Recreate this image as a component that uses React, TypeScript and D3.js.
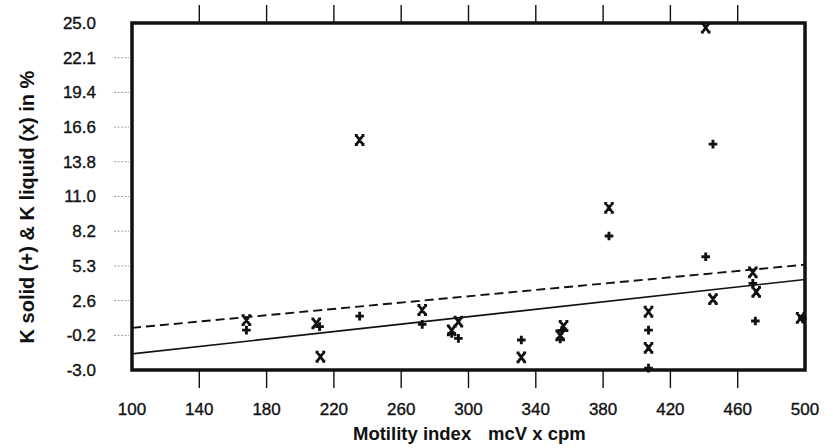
import React from "react";
import * as d3 from "d3";

const W = 833;
const H = 448;

// X axis
const xDomain = [100, 500];
const xTickValues = [100, 140, 180, 220, 260, 300, 340, 380, 420, 460, 500];
const xTickLabels = ["100", "140", "180", "220", "260", "300", "340", "380", "420", "460", "500"];
const xTickMarks = [140, 180, 220, 260, 300, 340, 380, 420, 460];

// Y axis
const yDomain = [-3, 25];
const yTickValues = [-3, -0.2, 2.6, 5.4, 8.2, 11.0, 13.8, 16.6, 19.4, 22.2, 25.0];
const yTickLabels = ["-3.0", "-0.2", "2.6", "5.3", "8.2", "11.0", "13.8", "16.6", "19.4", "22.1", "25.0"];

// K solid (+)
const solidX = [168, 211.5, 235.3, 272.5, 290, 294, 331.4, 355.5, 354.5, 383.5, 407, 407, 441, 445.3, 469, 470.5, 498.5];
const solidY = [0.22, 0.5, 1.35, 0.68, -0.05, -0.45, -0.58, 0.2, -0.5, 7.81, 0.22, -2.85, 6.14, 15.23, 3.99, 0.95, 1.15];

// K liquid (x)
const liquidX = [168, 209.5, 212, 235.3, 272.5, 290, 294, 331.4, 354.5, 356.5, 383.5, 407, 407, 441, 445.3, 469, 471, 497.4];
const liquidY = [1.03, 0.76, -1.93, 15.56, 1.84, 0.2, 0.9, -1.98, -0.2, 0.55, 10.09, 1.7, -1.21, 24.62, 2.72, 4.88, 3.31, 1.21];

// Regression lines
const lineX = [100, 500];
const solidLineY = [-1.7, 4.3];
const dashedLineY = [0.4, 5.5];

const FONT = "'Liberation Sans', Arial, Helvetica, sans-serif";

export default function App() {
  const x = d3.scaleLinear().domain(xDomain).range([132, 805]);
  const y = d3.scaleLinear().domain(yDomain).range([370, 23]);

  const line = d3
    .line<[number, number]>()
    .x((d) => x(d[0]))
    .y((d) => y(d[1]));

  const solidLine = line(lineX.map((v, i) => [v, solidLineY[i]] as [number, number])) || "";
  const dashedLine = line(lineX.map((v, i) => [v, dashedLineY[i]] as [number, number])) || "";

  const plusPath = "M-4.3,0H4.3M0,-4.3V4.3";
  const crossPath = "M-3.3,-4.5L3.3,4.5M3.3,-4.5L-3.3,4.5M-4.8,-4.5H-1.8M1.8,-4.5H4.8M-4.8,4.5H-1.8M1.8,4.5H4.8";

  return (
    <div style={{ position: "absolute", left: 0, top: 0 }}>
      <svg width={W} height={H} style={{ display: "block", background: "#fff" }}>
        <defs>
          <clipPath id="plotclip">
            <rect x={132} y={23} width={673} height={347} />
          </clipPath>
        </defs>
        <rect x={0} y={0} width={W} height={H} fill="#fff" />

        {/* y tick marks (faint dotted) */}
        {yTickValues.slice(1, -1).map((v, i) => (
          <line key={"yt" + i} x1={114} x2={129} y1={y(v)} y2={y(v)} stroke="#999" strokeWidth={1} strokeDasharray="2,1.5" />
        ))}

        {/* y tick labels */}
        {yTickValues.map((v, i) => (
          <text key={"yl" + i} x={96} y={y(v)} dy="0.35em" textAnchor="end" fontFamily={FONT} fontSize={17} fill="#111" stroke="#111" strokeWidth={0.35}>
            {yTickLabels[i]}
          </text>
        ))}

        {/* x tick marks top and bottom */}
        {xTickMarks.map((v, i) => (
          <g key={"xt" + i}>
            <line x1={x(v)} x2={x(v)} y1={5} y2={23} stroke="#111" strokeWidth={1.4} />
            <line x1={x(v)} x2={x(v)} y1={370} y2={388} stroke="#111" strokeWidth={1.4} />
          </g>
        ))}

        {/* x tick labels */}
        {xTickValues.map((v, i) => (
          <text key={"xl" + i} x={x(v)} y={415} textAnchor="middle" fontFamily={FONT} fontSize={17} fill="#111" stroke="#111" strokeWidth={0.35}>
            {xTickLabels[i]}
          </text>
        ))}

        {/* regression lines */}
        <g clipPath="url(#plotclip)">
          <path d={solidLine} fill="none" stroke="#111" strokeWidth={1.6} />
          <path d={dashedLine} fill="none" stroke="#111" strokeWidth={1.9} strokeDasharray="9,5" />
        </g>

        {/* markers */}
        {solidX.map((v, i) => (
          <path key={"s" + i} d={plusPath} transform={`translate(${x(v)},${y(solidY[i])})`} stroke="#111" strokeWidth={2.9} fill="none" />
        ))}
        {liquidX.map((v, i) => (
          <path key={"l" + i} d={crossPath} transform={`translate(${x(v)},${y(liquidY[i])})`} stroke="#111" strokeWidth={2.8} fill="none" />
        ))}

        {/* frame */}
        <rect x={132} y={23} width={673} height={347} fill="none" stroke="#111" strokeWidth={3.5} />

        {/* axis titles */}
        <text x={353} y={440} fontFamily={FONT} fontSize={18.5} fontWeight="bold" fill="#111">
          Motility index
        </text>
        <text x={488} y={440} fontFamily={FONT} fontSize={18.5} fontWeight="bold" fill="#111">
          mcV x cpm
        </text>
        <text
          transform={`translate(34,207) rotate(-90)`}
          textAnchor="middle"
          fontFamily={FONT}
          fontSize={20}
          fontWeight="bold"
          fill="#111"
        >
          K solid (+) &amp; K liquid (x) in %
        </text>
      </svg>
    </div>
  );
}
